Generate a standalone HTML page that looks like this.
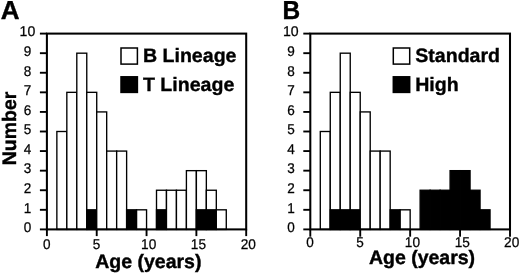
<!DOCTYPE html>
<html><head><meta charset="utf-8"><style>
html,body{margin:0;padding:0;background:#fff;}
svg{display:block;will-change:transform}
text{font-family:"Liberation Sans",Arial,sans-serif;fill:#000;text-rendering:geometricPrecision}
.tk{font-size:14.1px;stroke:#000;stroke-width:0.25px}
.ax{font-size:19.5px;font-weight:bold;stroke:#000;stroke-width:0.4px}
.lg{font-size:19.4px;font-weight:bold;stroke:#000;stroke-width:0.35px}
.lt{font-size:26.0px;font-weight:bold;stroke:#000;stroke-width:0.4px}
</style></head><body>
<svg width="520" height="273" viewBox="0 0 520 273">
<rect width="520" height="273" fill="#fff"/>
<rect x="56.86" y="131.50" width="9.965" height="97.90" fill="#fff" stroke="#000" stroke-width="1.35"/>
<rect x="66.83" y="92.34" width="9.965" height="137.06" fill="#fff" stroke="#000" stroke-width="1.35"/>
<rect x="76.80" y="53.18" width="9.965" height="176.22" fill="#fff" stroke="#000" stroke-width="1.35"/>
<rect x="86.76" y="92.34" width="9.965" height="137.06" fill="#fff" stroke="#000" stroke-width="1.35"/>
<rect x="86.76" y="209.82" width="9.965" height="19.58" fill="#000" stroke="#000" stroke-width="1.35"/>
<rect x="96.72" y="111.92" width="9.965" height="117.48" fill="#fff" stroke="#000" stroke-width="1.35"/>
<rect x="106.69" y="151.08" width="9.965" height="78.32" fill="#fff" stroke="#000" stroke-width="1.35"/>
<rect x="116.66" y="151.08" width="9.965" height="78.32" fill="#fff" stroke="#000" stroke-width="1.35"/>
<rect x="126.62" y="209.82" width="9.965" height="19.58" fill="#000" stroke="#000" stroke-width="1.35"/>
<rect x="136.59" y="209.82" width="9.965" height="19.58" fill="#fff" stroke="#000" stroke-width="1.35"/>
<rect x="156.51" y="190.24" width="9.965" height="39.16" fill="#fff" stroke="#000" stroke-width="1.35"/>
<rect x="156.51" y="209.82" width="9.965" height="19.58" fill="#000" stroke="#000" stroke-width="1.35"/>
<rect x="166.48" y="190.24" width="9.965" height="39.16" fill="#fff" stroke="#000" stroke-width="1.35"/>
<rect x="176.44" y="190.24" width="9.965" height="39.16" fill="#fff" stroke="#000" stroke-width="1.35"/>
<rect x="186.41" y="170.66" width="9.965" height="58.74" fill="#fff" stroke="#000" stroke-width="1.35"/>
<rect x="196.38" y="170.66" width="9.965" height="58.74" fill="#fff" stroke="#000" stroke-width="1.35"/>
<rect x="196.38" y="209.82" width="9.965" height="19.58" fill="#000" stroke="#000" stroke-width="1.35"/>
<rect x="206.34" y="190.24" width="9.965" height="39.16" fill="#fff" stroke="#000" stroke-width="1.35"/>
<rect x="206.34" y="209.82" width="9.965" height="19.58" fill="#000" stroke="#000" stroke-width="1.35"/>
<rect x="216.31" y="209.82" width="9.965" height="19.58" fill="#fff" stroke="#000" stroke-width="1.35"/>
<rect x="46.9" y="33.60" width="199.3" height="195.80" fill="none" stroke="#000" stroke-width="2.05"/>
<line x1="39.9" y1="229.40" x2="46.9" y2="229.40" stroke="#000" stroke-width="1.9"/>
<text transform="translate(27.60,232.20) scale(0.96,1)" text-anchor="middle" class="tk">0</text>
<line x1="39.9" y1="209.82" x2="46.9" y2="209.82" stroke="#000" stroke-width="1.9"/>
<text transform="translate(27.60,212.62) scale(0.96,1)" text-anchor="middle" class="tk">1</text>
<line x1="39.9" y1="190.24" x2="46.9" y2="190.24" stroke="#000" stroke-width="1.9"/>
<text transform="translate(27.60,193.04) scale(0.96,1)" text-anchor="middle" class="tk">2</text>
<line x1="39.9" y1="170.66" x2="46.9" y2="170.66" stroke="#000" stroke-width="1.9"/>
<text transform="translate(27.60,173.46) scale(0.96,1)" text-anchor="middle" class="tk">3</text>
<line x1="39.9" y1="151.08" x2="46.9" y2="151.08" stroke="#000" stroke-width="1.9"/>
<text transform="translate(27.60,153.88) scale(0.96,1)" text-anchor="middle" class="tk">4</text>
<line x1="39.9" y1="131.50" x2="46.9" y2="131.50" stroke="#000" stroke-width="1.9"/>
<text transform="translate(27.60,134.30) scale(0.96,1)" text-anchor="middle" class="tk">5</text>
<line x1="39.9" y1="111.92" x2="46.9" y2="111.92" stroke="#000" stroke-width="1.9"/>
<text transform="translate(27.60,114.72) scale(0.96,1)" text-anchor="middle" class="tk">6</text>
<line x1="39.9" y1="92.34" x2="46.9" y2="92.34" stroke="#000" stroke-width="1.9"/>
<text transform="translate(27.60,95.14) scale(0.96,1)" text-anchor="middle" class="tk">7</text>
<line x1="39.9" y1="72.76" x2="46.9" y2="72.76" stroke="#000" stroke-width="1.9"/>
<text transform="translate(27.60,75.56) scale(0.96,1)" text-anchor="middle" class="tk">8</text>
<line x1="39.9" y1="53.18" x2="46.9" y2="53.18" stroke="#000" stroke-width="1.9"/>
<text transform="translate(27.60,55.98) scale(0.96,1)" text-anchor="middle" class="tk">9</text>
<line x1="39.9" y1="33.60" x2="46.9" y2="33.60" stroke="#000" stroke-width="1.9"/>
<text transform="translate(27.40,36.40) scale(1.0,1)" text-anchor="middle" class="tk">10</text>
<line x1="46.90" y1="229.4" x2="46.90" y2="236.1" stroke="#000" stroke-width="1.9"/>
<text transform="translate(46.70,248.90) scale(0.96,1)" text-anchor="middle" class="tk">0</text>
<line x1="96.72" y1="229.4" x2="96.72" y2="236.1" stroke="#000" stroke-width="1.9"/>
<text transform="translate(96.52,248.90) scale(0.96,1)" text-anchor="middle" class="tk">5</text>
<line x1="146.55" y1="229.4" x2="146.55" y2="236.1" stroke="#000" stroke-width="1.9"/>
<text transform="translate(148.65,248.90) scale(0.97,1)" text-anchor="middle" class="tk">10</text>
<line x1="196.38" y1="229.4" x2="196.38" y2="236.1" stroke="#000" stroke-width="1.9"/>
<text transform="translate(198.47,248.90) scale(0.97,1)" text-anchor="middle" class="tk">15</text>
<line x1="246.20" y1="229.4" x2="246.20" y2="236.1" stroke="#000" stroke-width="1.9"/>
<text transform="translate(248.30,248.90) scale(0.97,1)" text-anchor="middle" class="tk">20</text>
<text transform="translate(148.30,267.70) scale(1.0,1)" text-anchor="middle" class="ax">Age (years)</text>
<text transform="translate(15.60,128.40) rotate(-90) scale(1.0,1)" text-anchor="middle" class="ax">Number</text>
<text transform="translate(0.80,18.90) scale(1.0,1)" text-anchor="start" class="lt">A</text>
<rect x="121.00" y="48" width="16.4" height="16.1" fill="#fff" stroke="#000" stroke-width="1.5"/>
<rect x="121.00" y="76.8" width="16.4" height="15.6" fill="#000" stroke="#000" stroke-width="1.5"/>
<text transform="translate(142.90,61.70) scale(1.01,1)" text-anchor="start" class="lg">B Lineage</text>
<text transform="translate(142.90,90.60) scale(1.01,1)" text-anchor="start" class="lg">T Lineage</text>
<rect x="320.29" y="131.50" width="9.985" height="97.90" fill="#fff" stroke="#000" stroke-width="1.35"/>
<rect x="330.27" y="92.34" width="9.985" height="137.06" fill="#fff" stroke="#000" stroke-width="1.35"/>
<rect x="330.27" y="209.82" width="9.985" height="19.58" fill="#000" stroke="#000" stroke-width="1.35"/>
<rect x="340.25" y="53.18" width="9.985" height="176.22" fill="#fff" stroke="#000" stroke-width="1.35"/>
<rect x="340.25" y="209.82" width="9.985" height="19.58" fill="#000" stroke="#000" stroke-width="1.35"/>
<rect x="350.24" y="92.34" width="9.985" height="137.06" fill="#fff" stroke="#000" stroke-width="1.35"/>
<rect x="350.24" y="209.82" width="9.985" height="19.58" fill="#000" stroke="#000" stroke-width="1.35"/>
<rect x="360.23" y="111.92" width="9.985" height="117.48" fill="#fff" stroke="#000" stroke-width="1.35"/>
<rect x="370.21" y="151.08" width="9.985" height="78.32" fill="#fff" stroke="#000" stroke-width="1.35"/>
<rect x="380.19" y="151.08" width="9.985" height="78.32" fill="#fff" stroke="#000" stroke-width="1.35"/>
<rect x="390.18" y="209.82" width="9.985" height="19.58" fill="#000" stroke="#000" stroke-width="1.35"/>
<rect x="400.17" y="209.82" width="9.985" height="19.58" fill="#fff" stroke="#000" stroke-width="1.35"/>
<rect x="420.13" y="190.24" width="9.985" height="39.16" fill="#000" stroke="#000" stroke-width="1.35"/>
<rect x="430.12" y="190.24" width="9.985" height="39.16" fill="#000" stroke="#000" stroke-width="1.35"/>
<rect x="440.11" y="190.24" width="9.985" height="39.16" fill="#000" stroke="#000" stroke-width="1.35"/>
<rect x="450.09" y="170.66" width="9.985" height="58.74" fill="#000" stroke="#000" stroke-width="1.35"/>
<rect x="460.07" y="170.66" width="9.985" height="58.74" fill="#000" stroke="#000" stroke-width="1.35"/>
<rect x="470.06" y="190.24" width="9.985" height="39.16" fill="#000" stroke="#000" stroke-width="1.35"/>
<rect x="480.05" y="209.82" width="9.985" height="19.58" fill="#000" stroke="#000" stroke-width="1.35"/>
<rect x="310.3" y="33.60" width="199.7" height="195.80" fill="none" stroke="#000" stroke-width="2.05"/>
<line x1="303.3" y1="229.40" x2="310.3" y2="229.40" stroke="#000" stroke-width="1.9"/>
<text transform="translate(291.00,232.20) scale(0.96,1)" text-anchor="middle" class="tk">0</text>
<line x1="303.3" y1="209.82" x2="310.3" y2="209.82" stroke="#000" stroke-width="1.9"/>
<text transform="translate(291.00,212.62) scale(0.96,1)" text-anchor="middle" class="tk">1</text>
<line x1="303.3" y1="190.24" x2="310.3" y2="190.24" stroke="#000" stroke-width="1.9"/>
<text transform="translate(291.00,193.04) scale(0.96,1)" text-anchor="middle" class="tk">2</text>
<line x1="303.3" y1="170.66" x2="310.3" y2="170.66" stroke="#000" stroke-width="1.9"/>
<text transform="translate(291.00,173.46) scale(0.96,1)" text-anchor="middle" class="tk">3</text>
<line x1="303.3" y1="151.08" x2="310.3" y2="151.08" stroke="#000" stroke-width="1.9"/>
<text transform="translate(291.00,153.88) scale(0.96,1)" text-anchor="middle" class="tk">4</text>
<line x1="303.3" y1="131.50" x2="310.3" y2="131.50" stroke="#000" stroke-width="1.9"/>
<text transform="translate(291.00,134.30) scale(0.96,1)" text-anchor="middle" class="tk">5</text>
<line x1="303.3" y1="111.92" x2="310.3" y2="111.92" stroke="#000" stroke-width="1.9"/>
<text transform="translate(291.00,114.72) scale(0.96,1)" text-anchor="middle" class="tk">6</text>
<line x1="303.3" y1="92.34" x2="310.3" y2="92.34" stroke="#000" stroke-width="1.9"/>
<text transform="translate(291.00,95.14) scale(0.96,1)" text-anchor="middle" class="tk">7</text>
<line x1="303.3" y1="72.76" x2="310.3" y2="72.76" stroke="#000" stroke-width="1.9"/>
<text transform="translate(291.00,75.56) scale(0.96,1)" text-anchor="middle" class="tk">8</text>
<line x1="303.3" y1="53.18" x2="310.3" y2="53.18" stroke="#000" stroke-width="1.9"/>
<text transform="translate(291.00,55.98) scale(0.96,1)" text-anchor="middle" class="tk">9</text>
<line x1="303.3" y1="33.60" x2="310.3" y2="33.60" stroke="#000" stroke-width="1.9"/>
<text transform="translate(290.80,36.40) scale(1.0,1)" text-anchor="middle" class="tk">10</text>
<line x1="310.30" y1="229.4" x2="310.30" y2="236.70000000000002" stroke="#000" stroke-width="1.9"/>
<text transform="translate(309.90,247.00) scale(0.96,1)" text-anchor="middle" class="tk">0</text>
<line x1="360.23" y1="229.4" x2="360.23" y2="236.70000000000002" stroke="#000" stroke-width="1.9"/>
<text transform="translate(360.12,247.00) scale(0.96,1)" text-anchor="middle" class="tk">5</text>
<line x1="410.15" y1="229.4" x2="410.15" y2="236.70000000000002" stroke="#000" stroke-width="1.9"/>
<text transform="translate(412.45,247.00) scale(0.97,1)" text-anchor="middle" class="tk">10</text>
<line x1="460.07" y1="229.4" x2="460.07" y2="236.70000000000002" stroke="#000" stroke-width="1.9"/>
<text transform="translate(462.27,247.00) scale(0.97,1)" text-anchor="middle" class="tk">15</text>
<line x1="510.00" y1="229.4" x2="510.00" y2="236.70000000000002" stroke="#000" stroke-width="1.9"/>
<text transform="translate(511.70,247.00) scale(0.97,1)" text-anchor="middle" class="tk">20</text>
<text transform="translate(422.00,263.90) scale(1.0,1)" text-anchor="middle" class="ax">Age (years)</text>
<text transform="translate(282.60,18.90) scale(0.94,1)" text-anchor="start" class="lt">B</text>
<rect x="393.30" y="48" width="16.4" height="16.1" fill="#fff" stroke="#000" stroke-width="1.5"/>
<rect x="393.30" y="76.8" width="16.4" height="15.6" fill="#000" stroke="#000" stroke-width="1.5"/>
<text transform="translate(415.20,61.70) scale(1.01,1)" text-anchor="start" class="lg">Standard</text>
<text transform="translate(415.20,90.60) scale(1.01,1)" text-anchor="start" class="lg">High</text>
</svg>
</body></html>
